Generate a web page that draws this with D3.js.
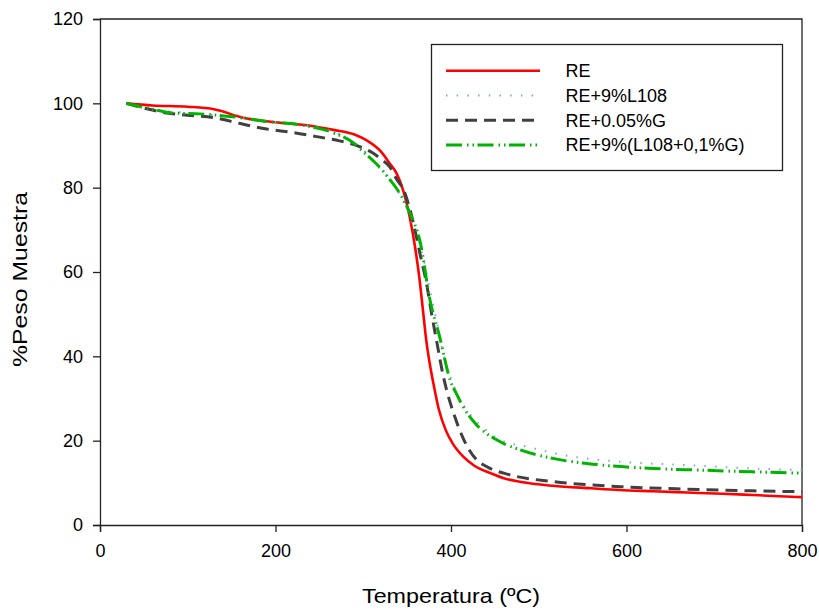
<!DOCTYPE html>
<html>
<head>
<meta charset="utf-8">
<script src="https://cdn.jsdelivr.net/npm/d3@7"></script>
<style>
  html, body { margin: 0; padding: 0; background: #fff; }
  svg { display: block; }
  text { font-family: "Liberation Sans", Arial, sans-serif; fill: #000; }
</style>
</head>
<body>
<svg id="chart" width="819" height="610"></svg>
<script>
// Thermogravimetric curves: residual weight (%) against temperature (ºC)
const seriesNames = ["RE", "RE+9%L108", "RE+0.05%G", "RE+9%(L108+0,1%G)"];

const tempRE = [30, 60, 100, 130, 163, 200, 240, 266, 290, 304, 320, 330, 338, 346, 353, 359, 364, 368, 372, 376, 380, 386, 394, 402, 414, 427, 445, 460, 480, 516, 560, 592, 630, 669, 710, 744, 800];
const weightRE = [100, 99.5, 99.2, 98.6, 96.6, 95.5, 94.7, 93.7, 92.6, 91.2, 88.6, 85.8, 83.4, 79, 73, 66, 58.5, 51, 43.5, 38, 33.5, 27.5, 22.5, 19.3, 16.2, 14, 12.3, 11.1, 10.2, 9.3, 8.7, 8.3, 8.0, 7.7, 7.4, 7.1, 6.6];

const tempL108 = [30, 60, 100, 140, 180, 220, 260, 281, 300, 315, 330, 342, 355, 368, 376, 384, 391, 402, 414, 422, 440, 456, 486, 528, 593, 669, 744, 800];
const weightL108 = [100, 98.6, 97.7, 97.0, 96, 95.1, 93.7, 91.8, 89, 85.4, 82, 78.3, 72, 63.7, 55.8, 48, 40.8, 33.6, 28.5, 26.2, 22.5, 20.2, 18.6, 16.6, 15, 14.2, 13.4, 13.0];

const tempG = [30, 50, 76, 100, 133, 160, 190, 220, 247, 273, 295, 311, 322, 330, 338, 346, 357, 365, 372, 378, 384, 391, 395, 403, 414, 429, 441, 467, 516, 593, 669, 744, 800];
const weightG = [100, 98.9, 97.7, 97.2, 96.5, 95.2, 93.9, 93.1, 92.1, 91.1, 89.8, 88.2, 86.5, 85, 82, 79.5, 71.7, 64, 57.4, 50, 43.2, 35.5, 32, 26.5, 20.5, 15.5, 13.8, 11.9, 10.3, 9.1, 8.5, 8.1, 7.9];

const tempL108G = [30, 60, 83, 114, 152, 190, 228, 266, 289, 300, 304, 318, 330, 342, 353, 365, 376, 387, 399, 406, 414, 429, 452, 479, 516, 573, 630, 687, 744, 800];
const weightL108G = [100, 98.6, 97.7, 97.5, 96.8, 95.7, 94.9, 93, 90.6, 88.5, 87.8, 85, 82, 78.5, 74, 67, 53.4, 44.7, 34.4, 31.2, 28, 23.8, 20.2, 17.8, 15.8, 14.2, 13.4, 13, 12.6, 12.3];

const xTicks = [0, 200, 400, 600, 800];
const yTicks = [0, 20, 40, 60, 80, 100, 120];

const svg = d3.select("#chart");
const plotLeft = 100, plotRight = 802, plotTop = 19, plotBottom = 525;

const x = d3.scaleLinear().domain([0, 800]).range([plotLeft, plotRight]);
const y = d3.scaleLinear().domain([0, 120]).range([plotBottom, plotTop]);

// Line styles per series
const styles = [
  { color: "#ff0000", width: 2.6, dash: null },
  { color: "#7ea6d8", width: 2, dash: "1.5,9.2" },
  { color: "#404040", width: 3, dash: "12,7" },
  { color: "#00b300", width: 3, dash: "16,5,1.5,4,1.5,3.5" }
];

const series = [
  { name: seriesNames[0], t: tempRE, w: weightRE },
  { name: seriesNames[1], t: tempL108, w: weightL108 },
  { name: seriesNames[2], t: tempG, w: weightG },
  { name: seriesNames[3], t: tempL108G, w: weightL108G }
].map((s, i) => ({ ...s, style: styles[i], pts: s.t.map((v, j) => [v, s.w[j]]) }));

const line = d3.line()
  .x(d => x(d[0]))
  .y(d => y(d[1]))
  .curve(d3.curveMonotoneX);

// Plot frame (top and right edges)
svg.append("path")
  .attr("d", `M${plotLeft},${plotTop}H${plotRight}V${plotBottom}`)
  .attr("fill", "none")
  .attr("stroke", "#222")
  .attr("stroke-width", 1.3);

// Axes
const xAxis = svg.append("g")
  .attr("transform", `translate(0,${plotBottom})`)
  .call(d3.axisBottom(x).tickValues(xTicks).tickSizeOuter(0).tickSize(7).tickPadding(12));
const yAxis = svg.append("g")
  .attr("transform", `translate(${plotLeft},0)`)
  .call(d3.axisLeft(y).tickValues(yTicks).tickSizeOuter(0).tickSize(7).tickPadding(10));

[xAxis, yAxis].forEach(g => {
  g.selectAll(".domain").attr("stroke", "#222").attr("stroke-width", 1.3);
  g.selectAll(".tick line").attr("stroke", "#222").attr("stroke-width", 1.3);
  g.selectAll(".tick text")
    .attr("font-family", "'Liberation Sans', Arial, sans-serif")
    .attr("font-size", 18)
    .attr("fill", "#000");
});

// Curves
const curves = svg.append("g");
series.forEach(s => {
  curves.append("path")
    .datum(s.pts)
    .attr("d", line)
    .attr("fill", "none")
    .attr("stroke", s.style.color)
    .attr("stroke-width", s.style.width)
    .attr("stroke-dasharray", s.style.dash)
    .attr("stroke-linecap", "butt");
});

// Axis titles
svg.append("text")
  .attr("x", 451).attr("y", 603)
  .attr("text-anchor", "middle")
  .attr("font-size", 21)
  .attr("textLength", 178)
  .attr("lengthAdjust", "spacingAndGlyphs")
  .text("Temperatura (ºC)");

svg.append("text")
  .attr("transform", "translate(27,279.5) rotate(-90)")
  .attr("text-anchor", "middle")
  .attr("font-size", 21)
  .attr("textLength", 175)
  .attr("lengthAdjust", "spacingAndGlyphs")
  .text("%Peso Muestra");

// Legend
const legend = svg.append("g");
legend.append("rect")
  .attr("x", 431.5).attr("y", 44.5)
  .attr("width", 351).attr("height", 126)
  .attr("fill", "#fff")
  .attr("stroke", "#222")
  .attr("stroke-width", 1.3);

series.forEach((s, i) => {
  const yy = 70.7 + i * 24.8;
  legend.append("line")
    .attr("x1", 446).attr("x2", 540)
    .attr("y1", yy).attr("y2", yy)
    .attr("stroke", s.style.color)
    .attr("stroke-width", s.style.width)
    .attr("stroke-dasharray", s.style.dash);
  legend.append("text")
    .attr("x", 565.5).attr("y", yy + 6.3)
    .attr("font-size", 18)
    .text(s.name);
});
</script>
</body>
</html>
